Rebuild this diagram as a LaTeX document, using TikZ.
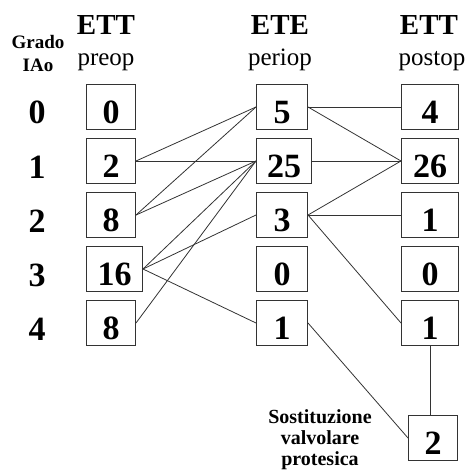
\documentclass[tikz,border=0pt]{standalone}
\usepackage{fontspec}
\setmainfont{Liberation Serif}
\usetikzlibrary{positioning}

\begin{document}
\begin{tikzpicture}[x=1pt,y=-1pt,
  numbox/.style={draw=black!80, line width=1pt, anchor=west, inner sep=0pt,
    minimum width=49pt, text height=39pt, text depth=6pt,
    font=\fontsize{34}{34}\selectfont\bfseries},
  grade/.style={anchor=base, font=\fontsize{34}{34}\selectfont\bfseries},
  head/.style={anchor=base, font=\fontsize{29}{29}\selectfont\bfseries},
  sub/.style={anchor=base, font=\fontsize{25}{25}\selectfont},
  small/.style={anchor=base, font=\fontsize{19}{19}\selectfont\bfseries},
  link/.style={draw=black!80, line width=0.8pt}]
\useasboundingbox (0,0) rectangle (468,473);
% column heads
\node[small] (gr) at (38,49) {Grado};
\node[small] (iao) at (38,72) {IAo};
\node[head] (hpre) at (106,35) {ETT};
\node[sub] (spre) at (106,66) {preop};
\node[head] (hper) at (280,35) {ETE};
\node[sub] (sper) at (280,66) {periop};
\node[head] (hpost) at (429,35) {ETT};
\node[sub] (spost) at (432,66) {postop};
% grade
\node[grade] (g0) at (37,124) {0};
\node[grade] (g1) at (37,178) {1};
\node[grade] (g2) at (37,232) {2};
\node[grade] (g3) at (37,286) {3};
\node[grade] (g4) at (37,340) {4};
% preop
\node[numbox] (p0) at (86,107) {0};
\node[numbox] (p1) at (86,161) {2};
\node[numbox] (p2) at (86,215) {8};
\node[numbox, minimum width=56pt] (p3) at (86,269) {16};
\node[numbox] (p4) at (86,323) {8};
% periop
\node[numbox, minimum width=51pt] (e0) at (256,107) {5};
\node[numbox, minimum width=55pt] (e1) at (256,161) {25};
\node[numbox, minimum width=51pt] (e2) at (256,215) {3};
\node[numbox, minimum width=51pt] (e3) at (256,269) {0};
\node[numbox, minimum width=51pt] (e4) at (256,323) {1};
% postop
\node[numbox, minimum width=57pt] (o0) at (401,107) {4};
\node[numbox, minimum width=57pt] (o1) at (401,161) {26};
\node[numbox, minimum width=57pt] (o2) at (401,215) {1};
\node[numbox, minimum width=57pt] (o3) at (401,269) {0};
\node[numbox, minimum width=57pt] (o4) at (401,323) {1};
\node[numbox, anchor=east] (ov) at (458,438) {2};
\node[small, font=\fontsize{20}{20}\selectfont\bfseries] (sv1) at (320,423) {Sostituzione};
\node[small, font=\fontsize{20}{20}\selectfont\bfseries] (sv2) at (320,444) {valvolare};
\node[small, font=\fontsize{20}{20}\selectfont\bfseries] (sv3) at (320,465) {protesica};
% preop -> periop
\draw[link] (p1.east) -- (e0.west);
\draw[link] (p1.east) -- (e1.west);
\draw[link] (p2.east) -- (e0.west);
\draw[link] (p2.east) -- (e1.west);
\draw[link] (p3.east) -- (e1.west);
\draw[link] (p3.east) -- (e2.west);
\draw[link] (p3.east) -- (e4.west);
\draw[link] (p4.east) -- (e1.west);
% periop -> postop
\draw[link] (e0.east) -- (o0.west);
\draw[link] (e0.east) -- (o1.west);
\draw[link] (e1.east) -- (o1.west);
\draw[link] (e2.east) -- (o1.west);
\draw[link] (e2.east) -- (o2.west);
\draw[link] (e2.east) -- (o4.west);
\draw[link] (e4.east) -- (ov.west);
\draw[link] (o4.south) -- (o4.south |- ov.north);
\end{tikzpicture}
\end{document}
